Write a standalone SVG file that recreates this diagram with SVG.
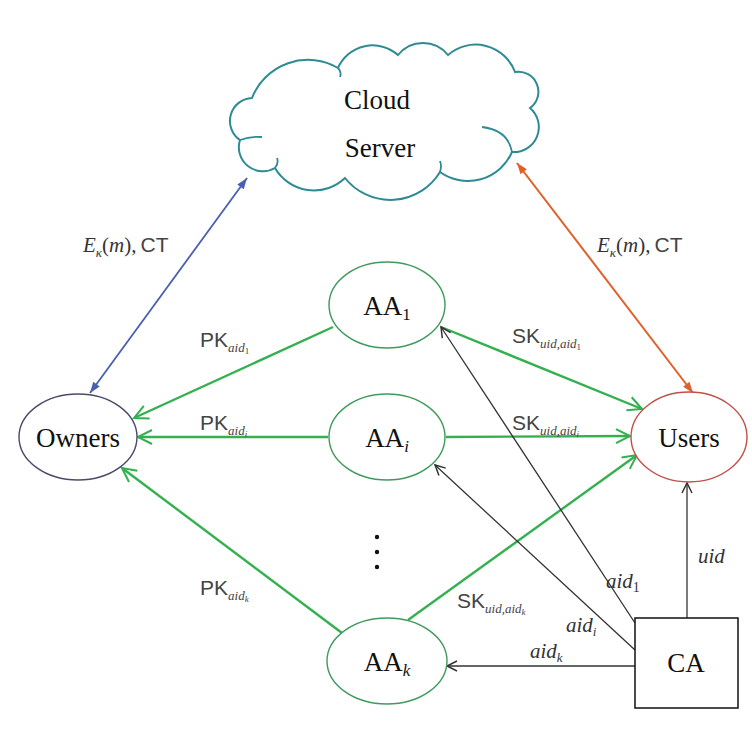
<svg xmlns="http://www.w3.org/2000/svg" width="752" height="740" viewBox="0 0 752 740">
<style>
.node{font-family:"Liberation Serif",serif;font-size:27px;fill:#111}
.nsub{font-family:"Liberation Serif",serif;font-size:17px}
.lab{font-family:"Liberation Sans",sans-serif;font-size:21px;font-style:normal;fill:#444}
.sub{font-family:"Liberation Serif",serif;font-style:italic;font-size:13px}
.ss{font-family:"Liberation Serif",serif;font-size:9px}
.math{font-family:"Liberation Serif",serif;font-style:italic;font-size:21px;fill:#333}
.rm{font-family:"Liberation Serif",serif;font-style:normal}
.g{stroke:#34b050;stroke-width:2.4;fill:none}
.k{stroke:#333;stroke-width:1.3;fill:none}
.aa{fill:#fff;stroke:#3f9a5c;stroke-width:1.4}
</style>
<defs>
<marker id="ag" markerUnits="userSpaceOnUse" markerWidth="20" markerHeight="20" refX="16" refY="10" orient="auto" overflow="visible"><path d="M2,3 L16,10 L2,17" fill="none" stroke="#34b050" stroke-width="2"/></marker>
<marker id="ak" markerUnits="userSpaceOnUse" markerWidth="14" markerHeight="14" refX="12" refY="7" orient="auto" overflow="visible"><path d="M2,2 L12,7 L2,12" fill="none" stroke="#333" stroke-width="1.5"/></marker>
<marker id="ab" markerUnits="userSpaceOnUse" markerWidth="12" markerHeight="12" refX="11" refY="5" orient="auto-start-reverse" overflow="visible"><path d="M0,1 L11,5 L0,9 Z" fill="#4a5fb0"/></marker>
<marker id="ao" markerUnits="userSpaceOnUse" markerWidth="12" markerHeight="12" refX="11" refY="5" orient="auto-start-reverse" overflow="visible"><path d="M0,1 L11,5 L0,9 Z" fill="#e0602a"/></marker>
</defs>
<rect width="752" height="740" fill="#fff"/>

<g id="cloud">
<path d="M240,140 A23,23 0 0 1 252,98 A60,60 0 0 1 338,68 A38,38 0 0 1 398,55 A32,32 0 0 1 448,55 A42,42 0 0 1 515,72 A20,20 0 0 1 530,108 A25,25 0 0 1 512,152 A48,48 0 0 1 440,172 A58,58 0 0 1 345,178 A45,45 0 0 1 275,168 A24,24 0 0 1 240,140 Z" fill="#fff" stroke="#2e8b94" stroke-width="2"/>
<path d="M512,152 Q508,130 482,127 M240,140 Q250,136 262,137 M338,68 Q342,72 340,77 M440,172 Q442,166 440,161 M275,168 Q279,163 277,158" fill="none" stroke="#2e8b94" stroke-width="1.8"/>
<text class="node" x="377" y="109" text-anchor="middle">Cloud</text>
<text class="node" x="380" y="157" text-anchor="middle">Server</text>
</g>

<g id="connectors">
<line x1="90" y1="393" x2="247" y2="178" stroke="#4a5fb0" stroke-width="1.8" marker-start="url(#ab)" marker-end="url(#ab)"/>
<line x1="693" y1="393" x2="517" y2="163" stroke="#e0602a" stroke-width="2" marker-start="url(#ao)" marker-end="url(#ao)"/>
<line class="g" x1="333" y1="327" x2="134" y2="418" marker-end="url(#ag)"/>
<line class="g" x1="328" y1="437" x2="138" y2="437" marker-end="url(#ag)"/>
<line class="g" x1="342" y1="633" x2="122" y2="468" marker-end="url(#ag)"/>
<line class="g" x1="441" y1="327" x2="642" y2="409" marker-end="url(#ag)"/>
<line class="g" x1="446" y1="437" x2="630" y2="436" marker-end="url(#ag)"/>
<line class="g" x1="408" y1="620" x2="637" y2="455" marker-end="url(#ag)"/>
<line class="k" x1="635" y1="623" x2="441" y2="327" marker-end="url(#ak)"/>
<line class="k" x1="635" y1="650" x2="435" y2="465" marker-end="url(#ak)"/>
<line class="k" x1="635" y1="666" x2="447" y2="666" marker-end="url(#ak)"/>
<line class="k" x1="687" y1="618" x2="687" y2="483" marker-end="url(#ak)"/>
<text class="math" x="83" y="252">E<tspan class="sub" dy="5">κ</tspan><tspan class="rm" dy="-5">(</tspan>m<tspan class="rm">),</tspan><tspan class="lab" dx="4">CT</tspan></text>
<text class="math" x="597" y="252">E<tspan class="sub" dy="5">κ</tspan><tspan class="rm" dy="-5">(</tspan>m<tspan class="rm">),</tspan><tspan class="lab" dx="4">CT</tspan></text>
<text class="lab" x="200" y="347">PK<tspan class="sub" dy="5">aid</tspan><tspan class="ss" dy="2">1</tspan></text>
<text class="lab" x="200" y="430">PK<tspan class="sub" dy="5">aid</tspan><tspan class="ss" dy="2" font-style="italic">i</tspan></text>
<text class="lab" x="200" y="595">PK<tspan class="sub" dy="5">aid</tspan><tspan class="ss" dy="2" font-style="italic">k</tspan></text>
<text class="lab" x="512" y="343">SK<tspan class="sub" dy="5">uid,aid</tspan><tspan class="ss" dy="2">1</tspan></text>
<text class="lab" x="512" y="430">SK<tspan class="sub" dy="5">uid,aid</tspan><tspan class="ss" dy="2" font-style="italic">i</tspan></text>
<text class="lab" x="457" y="608">SK<tspan class="sub" dy="5">uid,aid</tspan><tspan class="ss" dy="2" font-style="italic">k</tspan></text>
<text class="math" x="606" y="588">aid<tspan class="rm" font-size="14" dy="4">1</tspan></text>
<text class="math" x="566" y="632">aid<tspan font-size="13" dy="4">i</tspan></text>
<text class="math" x="530" y="658">aid<tspan font-size="13" dy="4">k</tspan></text>
<text class="math" x="698" y="563">uid</text>
</g>

<g id="owners">
<ellipse cx="78" cy="437" rx="59" ry="43" fill="#fff" stroke="#4a4a6a" stroke-width="1.4"/>
<text class="node" x="78" y="447" text-anchor="middle">Owners</text>
</g>
<g id="users">
<ellipse cx="689" cy="437" rx="58" ry="45" fill="#fff" stroke="#c05048" stroke-width="1.4"/>
<text class="node" x="689" y="447" text-anchor="middle">Users</text>
</g>
<g id="aa1">
<ellipse class="aa" cx="387" cy="305" rx="58" ry="43"/>
<text class="node" x="387" y="315" text-anchor="middle">AA<tspan class="nsub" dy="5">1</tspan></text>
</g>
<g id="aai">
<ellipse class="aa" cx="387" cy="437" rx="58" ry="43"/>
<text class="node" x="387" y="447" text-anchor="middle">AA<tspan class="nsub" dy="5" font-style="italic">i</tspan></text>
</g>
<g id="dots">
<circle cx="377" cy="537" r="2.2" fill="#111"/>
<circle cx="377" cy="552" r="2.2" fill="#111"/>
<circle cx="377" cy="567" r="2.2" fill="#111"/>
</g>
<g id="aak">
<ellipse class="aa" cx="387" cy="661" rx="60" ry="43"/>
<text class="node" x="387" y="671" text-anchor="middle">AA<tspan class="nsub" dy="5" font-style="italic">k</tspan></text>
</g>
<g id="ca">
<rect x="635" y="618" width="103" height="90" fill="#fff" stroke="#111" stroke-width="1.5"/>
<text class="node" x="686" y="672" text-anchor="middle">CA</text>
</g>
</svg>
